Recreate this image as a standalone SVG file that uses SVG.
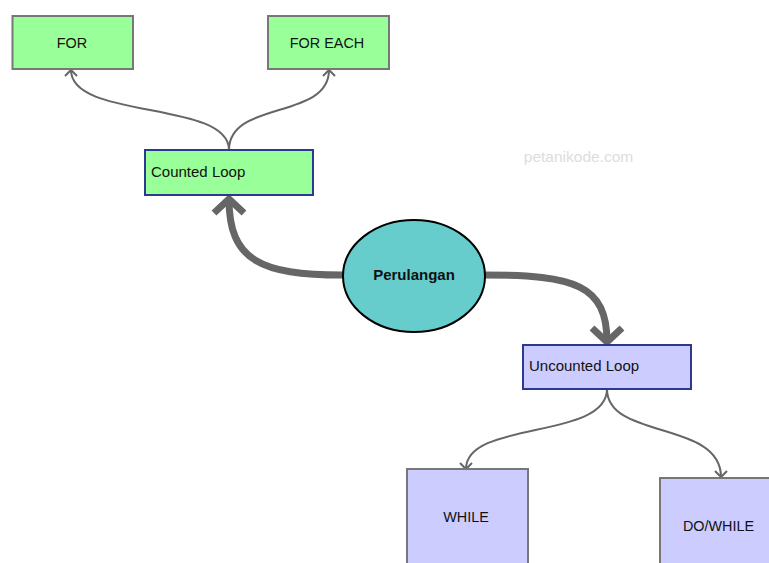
<svg xmlns="http://www.w3.org/2000/svg" width="769" height="563" viewBox="0 0 769 563">
<style>
  .green{fill:#99ff99}
  .lav{fill:#ccccff}
  .gb{stroke:#777;stroke-width:2}
  .bb{stroke:#2b3990;stroke-width:2}
  .t{font-family:"Liberation Sans",Arial,sans-serif;font-size:14.4px;fill:#111}
  .tl{font-family:"Liberation Sans",Arial,sans-serif;font-size:15px;fill:#111}
  .thin{fill:none;stroke:#666;stroke-width:2}
  .thick{fill:none;stroke:#666;stroke-width:7}
</style>
<defs>
  <marker id="aS" markerUnits="userSpaceOnUse" viewBox="-10 -10 20 20" markerWidth="20" markerHeight="20" refX="0" refY="0" orient="auto">
    <path d="M-6,-6 L0,0 L-6,6" fill="none" stroke="#666" stroke-width="2"/>
  </marker>
  <marker id="aL" markerUnits="userSpaceOnUse" viewBox="-20 -20 40 40" markerWidth="40" markerHeight="40" refX="0" refY="0" orient="auto">
    <path d="M-14,-15 L0,0 L-14,15" fill="none" stroke="#666" stroke-width="7"/>
  </marker>
</defs>
<rect width="769" height="563" fill="#fff"/>
<text x="578.5" y="162" text-anchor="middle" style="font-family:'Liberation Sans',Arial,sans-serif;font-size:15.5px;fill:#dddddd">petanikode.com</text>
<g id="connectors">
  <path class="thin" d="M229,150 C229,100 71,120 71,70" marker-end="url(#aS)"/>
  <path class="thin" d="M229,150 C229,100 329,120 329,70" marker-end="url(#aS)"/>
  <path class="thick" d="M343,275 C260,275 229,260 229,199" marker-end="url(#aL)"/>
  <path class="thick" d="M485,275 C575,275 607,285 607,342" marker-end="url(#aL)"/>
  <path class="thin" d="M607,389 C607,440 466,420 466,469" marker-end="url(#aS)"/>
  <path class="thin" d="M607,389 C607,440 721,420 721,477" marker-end="url(#aS)"/>
</g>
<g id="for">
  <rect x="12.5" y="16" width="120.5" height="53" class="green gb"/>
  <text x="72" y="48" text-anchor="middle" class="t">FOR</text>
</g>
<g id="foreach">
  <rect x="268" y="16" width="121" height="53" class="green gb"/>
  <text x="327" y="48" text-anchor="middle" class="t">FOR EACH</text>
</g>
<g id="counted">
  <rect x="145" y="150" width="168" height="45" class="green bb"/>
  <text x="151" y="177" class="tl">Counted Loop</text>
</g>
<g id="perulangan">
  <ellipse cx="414" cy="276" rx="71" ry="56" fill="#66cccc" stroke="#000" stroke-width="2"/>
  <text x="414" y="280" text-anchor="middle" class="tl" font-weight="bold">Perulangan</text>
</g>
<g id="uncounted">
  <rect x="523" y="345" width="168" height="44" class="lav bb"/>
  <text x="529" y="371" class="tl">Uncounted Loop</text>
</g>
<g id="while">
  <rect x="407" y="469" width="121" height="100" class="lav gb"/>
  <text x="466" y="522" text-anchor="middle" class="t">WHILE</text>
</g>
<g id="dowhile">
  <rect x="660" y="478" width="121" height="100" class="lav gb"/>
  <text x="718.5" y="531" text-anchor="middle" class="t">DO/WHILE</text>
</g>
</svg>
